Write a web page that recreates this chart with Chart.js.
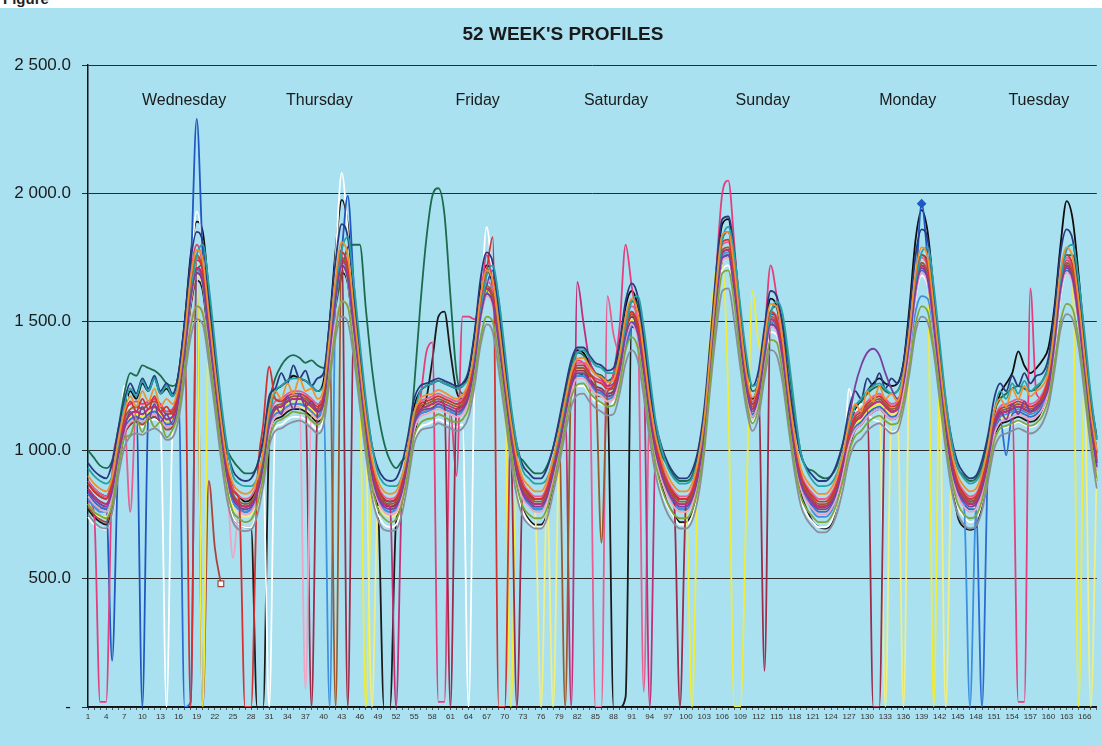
<!DOCTYPE html>
<html>
<head>
<meta charset="utf-8">
<title>52 WEEK'S PROFILES</title>
<script src="https://cdn.jsdelivr.net/npm/chart.js@4.4.1/dist/chart.umd.min.js"></script>
<style>
  html, body { margin: 0; padding: 0; }
  body { width: 1102px; height: 746px; background: #a9e1f0; position: relative; overflow: hidden; }
  #strip { position: absolute; left: 0; top: 0; width: 1102px; height: 8px; background: #fff; overflow: hidden; }
  #strip span { position: absolute; left: 3px; top: -10px; font: bold 15px "Liberation Sans", Arial, sans-serif; color: #222; }
  #chart { position: absolute; left: 0; top: 0; }
</style>
</head>
<body>
<canvas id="chart" width="1102" height="746"></canvas>
<div id="strip"><span>Figure</span></div>
<script>
// hourly load of each week, Wednesday 01h .. Tuesday 24h
const hours = Array.from({ length: 168 }, (_, i) => String(i + 1));
const dayNames = ['Wednesday', 'Thursday', 'Friday', 'Saturday', 'Sunday', 'Monday', 'Tuesday'];
const dayLabelHour = [16.9, 39.3, 65.5, 88.4, 112.7, 136.7, 158.4];
const dayLabelValue = 2362;

const wkOlive = [
  790,760,745,735,790,930,1045,1060,1120,1070,1130,1090,1110,1050,1080,1150,1320,1480,1560,1530,1380,1200,1010,850,
  760,735,720,730,785,895,1045,1105,1120,1135,1150,1145,1140,1115,1100,1140,1300,1470,1580,1560,1400,1215,1020,860,
  770,735,720,730,795,915,1055,1105,1120,1125,1140,1130,1115,1110,1120,1165,1290,1440,1520,1500,1360,1180,1000,860,
  780,750,735,735,775,865,975,1095,1205,1255,1260,1225,1200,1185,1170,1175,1255,1390,1440,1400,1255,1080,940,850,
  790,750,735,735,765,855,1015,1270,1510,1690,1700,1570,1360,1190,1105,1165,1310,1430,1420,1300,1110,940,820,770,
  740,720,720,740,795,885,995,1055,1075,1105,1125,1135,1115,1100,1105,1190,1330,1490,1560,1540,1400,1230,1030,880,
  790,750,735,745,805,915,1035,1085,1095,1105,1115,1105,1095,1105,1135,1200,1340,1500,1570,1550,1430,1250,1040,890
];
const wkGray = [
  750,720,700,695,755,895,1010,1055,1065,1060,1075,1085,1070,1040,1050,1120,1280,1440,1510,1490,1340,1160,970,810,
  720,690,685,690,745,860,1015,1075,1085,1100,1110,1115,1105,1085,1065,1100,1270,1440,1520,1500,1360,1170,980,820,
  730,690,685,690,755,880,1025,1075,1085,1090,1105,1095,1085,1075,1085,1130,1250,1410,1490,1460,1310,1140,960,820,
  740,710,695,695,735,830,945,1065,1170,1215,1220,1190,1165,1150,1135,1140,1220,1340,1390,1350,1210,1040,900,810,
  750,715,695,695,725,815,985,1240,1460,1620,1630,1500,1320,1160,1075,1130,1280,1390,1370,1260,1080,910,785,730,
  700,680,680,700,755,850,965,1025,1045,1075,1095,1105,1085,1065,1075,1160,1300,1460,1520,1500,1380,1190,1000,840,
  750,710,695,705,765,880,1005,1055,1065,1075,1085,1075,1065,1075,1105,1170,1310,1470,1530,1510,1400,1210,1010,850
];
const wkOrange = [
  900,870,850,840,895,1035,1150,1210,1170,1230,1190,1240,1170,1200,1180,1255,1440,1670,1780,1740,1530,1320,1120,960,
  870,840,830,840,890,995,1160,1230,1200,1260,1220,1280,1230,1240,1200,1240,1440,1670,1810,1760,1550,1330,1130,970,
  880,840,830,840,900,1015,1150,1200,1215,1220,1235,1225,1210,1200,1215,1265,1400,1600,1700,1660,1490,1290,1110,970,
  890,860,840,840,880,970,1075,1195,1305,1355,1360,1325,1295,1285,1265,1275,1370,1520,1590,1540,1380,1190,1050,960,
  900,860,840,840,870,960,1115,1375,1640,1840,1850,1710,1490,1300,1205,1265,1430,1570,1560,1430,1220,1050,930,880,
  850,830,830,850,900,985,1110,1180,1150,1230,1190,1250,1200,1220,1190,1295,1470,1690,1790,1750,1560,1340,1140,990,
  900,860,840,850,910,1015,1150,1200,1170,1240,1200,1250,1210,1230,1250,1305,1480,1700,1790,1750,1580,1360,1150,1000
];
const wkPurple = [
  840,810,790,780,840,975,1080,1150,1110,1170,1120,1180,1110,1140,1100,1195,1375,1590,1690,1650,1455,1255,1060,900,
  810,780,770,780,830,935,1100,1170,1140,1210,1160,1220,1170,1190,1150,1180,1375,1590,1720,1670,1475,1270,1065,905,
  815,780,770,780,840,960,1100,1150,1160,1165,1180,1170,1160,1150,1160,1205,1335,1520,1610,1575,1415,1230,1050,905,
  830,800,780,780,820,910,1015,1135,1250,1300,1300,1270,1240,1230,1210,1220,1305,1445,1500,1455,1305,1130,990,900,
  840,800,780,780,810,900,1055,1310,1570,1750,1760,1620,1415,1240,1150,1210,1365,1490,1475,1355,1160,990,870,820,
  790,770,770,790,845,950,1120,1250,1330,1380,1395,1370,1300,1240,1200,1260,1420,1620,1710,1665,1485,1280,1080,925,
  840,800,780,790,850,955,1090,1150,1120,1180,1140,1190,1150,1170,1190,1245,1415,1625,1710,1665,1505,1300,1090,935
];
const wkTeal = [
  930,900,880,870,900,1020,1170,1240,1210,1270,1230,1280,1220,1250,1210,1260,1380,1600,1760,1800,1640,1420,1200,1020,
  900,870,860,860,890,980,1130,1230,1250,1270,1280,1280,1270,1250,1230,1250,1400,1610,1780,1830,1650,1420,1200,1020,
  910,870,860,860,900,1000,1140,1230,1250,1260,1270,1260,1250,1240,1250,1280,1370,1540,1680,1720,1590,1390,1180,1020,
  920,890,870,870,890,960,1060,1180,1310,1380,1390,1360,1330,1320,1300,1300,1360,1480,1580,1600,1480,1290,1110,1000,
  930,890,870,870,890,960,1090,1330,1610,1820,1870,1760,1560,1370,1250,1270,1390,1530,1580,1530,1360,1160,990,920,
  880,860,860,870,910,990,1090,1170,1200,1230,1250,1260,1240,1220,1230,1290,1440,1640,1770,1790,1640,1420,1200,1030,
  930,890,870,880,920,1010,1150,1230,1200,1260,1220,1270,1230,1250,1270,1320,1450,1660,1780,1800,1660,1450,1220,1040
];
const wkNavy = [
  950,920,900,890,950,1080,1190,1260,1220,1280,1240,1290,1230,1260,1220,1300,1500,1740,1850,1810,1590,1370,1170,1010,
  920,890,880,890,940,1040,1210,1240,1300,1260,1330,1280,1310,1250,1280,1300,1500,1740,1880,1830,1610,1380,1180,1020,
  930,890,880,890,950,1060,1200,1250,1260,1270,1280,1270,1260,1250,1260,1310,1460,1670,1770,1730,1550,1340,1160,1020,
  940,910,890,890,930,1010,1120,1240,1350,1400,1400,1370,1340,1330,1310,1320,1420,1580,1650,1600,1430,1240,1100,1010,
  950,910,890,890,920,1000,1160,1420,1700,1900,1910,1770,1540,1340,1250,1310,1480,1620,1600,1480,1270,1100,980,930,
  900,880,880,900,950,1030,1160,1230,1200,1280,1250,1300,1240,1280,1260,1340,1530,1760,1860,1820,1620,1390,1190,1040,
  950,910,890,900,960,1060,1200,1260,1230,1290,1250,1300,1260,1290,1300,1360,1540,1770,1860,1820,1640,1410,1200,1050
];
const wkRed = [
  870,840,820,810,870,1010,1130,1190,1150,1200,1160,1210,1150,1170,1140,1230,1420,0,1740,1700,1500,1290,1090,930,
  840,810,0,0,860,1100,1325,1200,1190,1210,1220,1220,1210,1190,1170,1210,1410,1640,1770,1720,1510,1300,1100,940,
  850,810,800,810,870,990,1130,1180,1190,1200,1210,1200,1190,1180,1190,1240,1380,1580,1700,1830,0,0,1080,940,
  860,830,810,810,850,940,1050,1170,1280,1330,1330,1300,1270,1260,1240,1250,1340,1480,1540,1490,1340,1160,1020,930,
  870,830,810,810,840,930,1090,1350,1620,1810,1820,1670,1450,1270,1180,1240,1400,1540,1510,1390,1190,1020,900,850,
  820,800,800,820,870,960,1070,1130,1150,1180,1200,1210,1190,1170,1180,1270,1450,1670,1760,1720,1530,1310,1110,960,
  870,830,810,820,880,990,1110,1160,1170,1180,1190,1180,1170,1180,1210,1280,1460,1680,1760,1720,1550,1330,1120,970
];
const wkRose = [
  820,790,770,760,820,960,1070,1110,1120,1110,1130,1140,1120,1090,1100,1180,1340,1500,1560,1540,1400,1240,1040,880,
  580,760,750,760,810,920,1070,1130,1140,1160,1170,1170,70,1140,1120,1160,1340,1500,1580,1560,1430,1250,1050,890,
  800,760,750,760,820,940,1080,1130,1140,1150,1160,1150,1140,1130,1140,1190,1320,1510,1600,1560,1400,1210,1030,890,
  810,780,760,760,800,890,1000,1120,1230,1280,1280,1250,1220,1210,1190,1200,1290,1430,1490,1440,1290,1110,970,880,
  820,780,760,760,790,880,1040,1300,1560,1740,1750,1610,1400,1220,1130,1190,1350,1480,1460,1340,1140,970,850,800,
  770,750,750,770,820,910,1020,1080,1100,1130,1150,1160,1140,1120,1130,1220,1390,1600,1690,1650,1470,1260,1060,910,
  820,780,760,770,830,940,1060,1110,1120,1130,1140,1130,1120,1130,1160,1230,1400,1610,1690,1650,1490,1280,1070,920
];
const wkBrown = [
  870,840,820,810,870,1010,1120,1160,1170,1160,1180,1190,1170,1140,1150,1230,1420,1650,1760,1700,1490,1290,1090,930,
  830,800,790,800,850,960,1110,1170,1180,1200,1210,1210,1200,1180,1160,1200,1400,0,1750,1700,1500,1290,1090,930,
  840,800,790,800,860,980,1120,1170,1180,1190,1200,1190,1180,1170,1180,1230,1360,1550,1640,1600,1440,1250,1070,930,
  850,820,800,800,840,930,1040,0,1270,1320,1320,1290,1260,640,1230,1240,1330,1470,1530,1480,1330,1150,1010,920,
  860,820,800,800,830,920,1080,1340,1600,1780,1790,1650,1440,1260,1170,1230,1390,1520,1500,1380,1180,1010,890,840,
  810,790,790,810,860,950,1060,1120,1140,1170,1190,1200,1180,1160,1170,1260,1430,1640,1730,1690,1510,1300,1100,950,
  860,820,800,810,870,980,1100,1150,1160,1170,1180,1170,1160,1170,1200,1270,1440,1650,1730,1690,1530,1320,1110,960
];
const wkMagenta = [
  850,820,800,790,850,990,1100,1140,1150,1140,1160,1170,1150,1120,1130,1210,1390,1610,1710,1670,1470,1270,1070,910,
  820,790,780,790,840,950,1100,1160,1170,1190,1200,1200,1190,1170,1150,1190,1390,1610,1740,1690,1490,1280,1080,920,
  830,790,780,0,850,970,1110,1160,1170,1180,1190,1180,1170,1160,1170,1220,1350,1540,1630,1590,1430,1240,1060,920,
  840,810,790,790,830,920,1030,1150,0,1655,1500,1350,1300,1280,1250,1260,1350,1480,1540,1490,1340,0,1000,910,
  850,810,790,790,820,910,1070,1330,1590,1770,1780,1640,1430,1250,1160,1220,1380,1510,1490,1370,1170,1000,880,830,
  800,780,780,800,850,940,1050,1110,1130,1160,1180,1190,1170,1150,1160,1250,1420,1630,1720,1680,1500,1290,1090,940,
  850,810,790,800,860,970,1090,1140,1150,1160,1170,1160,1150,1160,1190,1260,1430,1640,1720,1680,1520,1310,1100,950
];
const wkPink2 = [
  880,850,830,820,880,1020,1120,760,1170,1160,1180,1190,1170,1140,1150,1230,1410,1640,1750,1700,1500,1290,1090,930,
  850,820,810,820,870,980,1130,1190,1200,1220,1230,1230,1220,1200,1180,1220,1420,1640,1770,1720,1520,1310,1110,950,
  860,820,810,820,880,1000,1140,1190,1200,1210,1220,1210,1200,1190,1200,1250,1380,1570,1660,1620,1460,1270,1090,950,
  870,840,820,820,860,950,1060,1180,1290,1340,1340,1310,0,0,1600,1450,1380,1500,1560,1500,60,1170,1030,940,
  880,840,820,820,850,940,1100,1360,1620,1800,1810,1670,1460,1280,1190,1250,1410,1540,1520,1400,1200,1030,910,860,
  830,810,810,830,880,970,1080,1140,1160,1190,1210,1220,1200,1180,1190,1280,1450,1660,1750,1710,1530,1320,1120,970,
  880,840,820,830,890,1000,1120,1170,1180,1190,1200,1190,1180,1190,1220,1290,1460,1670,1750,1710,1550,1340,1130,980
];
const wkMaroon = [
  850,820,800,790,850,990,1100,1140,1150,1140,1160,1170,1150,1120,1130,1210,1390,1610,1710,1670,1470,1270,1070,910,
  820,790,780,790,840,950,1100,1160,1170,1190,1200,1200,1190,0,1150,1200,1410,1650,1780,0,1480,1280,1080,920,
  830,790,780,790,850,970,1110,1160,1170,1180,1190,1180,0,1160,1170,1220,1350,1540,1630,1590,1430,1240,1060,0,
  840,810,790,790,830,920,1030,1150,1260,1310,1310,1280,1250,1240,1220,1230,1320,1460,1520,1470,1320,1140,1000,910,
  850,810,0,790,820,910,1070,1330,1590,1770,1780,1640,1430,1250,1160,1220,140,1510,1490,1370,1170,1000,880,830,
  800,780,780,800,850,940,1050,1110,1130,1160,0,0,1170,1150,1160,1250,1420,1630,1720,1680,1500,1290,1090,940,
  850,810,790,800,860,970,1090,1140,1150,1160,1170,1160,1150,1160,1190,1260,1430,1640,1720,1680,1520,1310,1100,950
];
const wkSky = [
  810,780,760,760,820,960,1070,1110,1120,1110,1130,1140,1120,1090,1100,1190,1370,1600,1700,1660,1460,1260,1060,900,
  800,770,760,770,820,930,1080,1140,1150,1170,1180,1180,1170,1150,1130,1170,0,1600,1730,1690,1490,1280,1080,920,
  810,770,760,770,830,950,1090,1140,1150,1160,1170,1160,1150,1140,1150,1200,1330,1520,1610,1640,1520,1300,1100,940,
  820,790,770,770,810,900,1010,1130,1240,1290,1290,1260,1230,1220,1200,1210,1290,1420,1490,1490,1380,1200,1030,920,
  830,790,770,770,800,890,1050,1310,1580,1760,1770,1640,1450,1270,1180,1230,1380,1500,1480,1370,1180,1000,870,810,
  760,740,740,760,820,910,1020,1080,1100,1130,1150,1160,1140,1120,1130,1220,1380,1540,1600,1590,1460,1270,1070,920,
  820,790,0,780,850,960,1080,1130,1140,1150,1160,1150,1140,1150,1180,1250,1420,1630,1710,1670,1510,1300,1090,940
];
const wkBlue2 = [
  830,800,780,770,830,970,1080,1120,1130,1120,1140,1150,1130,1100,1110,1190,0,20,1690,1650,1450,1250,1050,890,
  800,770,760,770,820,930,1080,1140,1150,1170,1180,1180,1170,1150,1130,1170,1370,1590,1720,1670,1470,1260,1060,900,
  810,770,760,770,830,950,1090,1140,1150,1160,1170,1160,1150,1140,1150,1200,1330,1520,1610,1570,1410,1220,1040,900,
  820,790,770,770,810,900,1010,1130,1240,1290,1290,1260,1230,1220,1200,1210,1300,1400,1480,1510,1420,1200,1020,910,
  830,790,770,770,800,890,1050,1310,1570,1750,1760,1620,1410,1230,1140,1200,1360,1490,1470,1350,1150,980,860,810,
  780,760,760,780,830,920,1030,1090,1110,1140,1160,1170,1150,1130,1140,1230,1400,1610,1700,1660,1480,1270,1070,920,
  830,790,770,770,0,950,1070,1120,980,1140,1150,1140,1130,1140,1170,1240,1410,1620,1700,1660,1500,1290,1080,930
];
const wkPaleYellow = [
  790,760,740,740,800,950,1070,1110,1120,1110,1130,1140,1120,1090,1100,1180,1360,1580,1680,1640,1440,1240,1040,880,
  780,750,740,750,810,920,1070,1130,1140,1160,1170,1170,1160,1140,1120,1160,1360,1580,1710,1660,1460,1250,1050,0,
  780,750,740,750,820,940,1080,1130,1140,1150,1160,1150,1140,1130,1140,1190,1320,1510,1600,1560,1400,1210,1030,890,
  810,780,760,0,800,0,1000,1120,1230,1280,1280,1250,1220,1210,1190,1200,1290,1430,1490,1440,1290,1110,970,880,
  820,780,760,760,790,880,1040,1300,1560,1740,1750,1620,1420,1240,1150,1210,1370,1500,1480,1360,1160,990,870,820,
  780,760,760,780,830,920,1030,1090,1110,1140,1160,1170,0,1130,1140,0,1400,1610,1700,1660,1480,1270,0,920,
  830,790,770,780,840,950,1070,1120,1130,1140,1150,1140,1130,1140,1170,1240,1410,1620,1700,1660,1500,1300,0,930
];
const wkYellow = [
  830,800,780,780,840,980,1090,1130,1140,1130,1150,1160,1140,1110,1120,1200,1380,1600,1700,0,1460,1260,1060,900,
  810,780,770,780,830,940,1090,1150,1160,1180,1190,1190,1180,1160,1140,1180,1380,1600,1730,1680,1480,1270,0,910,
  820,780,770,780,840,960,1100,1150,1160,1170,1180,1170,1160,1150,1160,1210,1340,1530,1620,1580,1420,1230,0,910,
  830,800,780,780,820,910,1020,1140,1250,1300,1300,1270,1240,1230,1210,1220,1310,1450,1510,1460,1310,1130,990,900,
  840,800,780,780,0,900,1060,1450,1700,1720,1200,0,0,800,1620,1420,1380,1500,1480,1360,1160,990,870,820,
  790,770,770,790,840,930,1040,1100,1120,1150,1170,1180,1160,1140,1150,1240,1410,1620,1710,1670,0,1280,1080,930,
  840,800,780,790,850,960,1080,1130,1140,1150,1160,1150,1140,1150,1180,1250,1420,1630,1710,1670,0,1320,1090,940
];
// last, incomplete week: stops at hour 23
const wkLast = [
  780,750,730,720,790,940,1060,1100,1110,1100,1120,1130,1110,1080,1090,1170,1350,1570,1650,0,880,620,480
];
const wkPink = [
  800,760,20,20,900,1060,1150,1180,1190,1180,1190,1200,1180,1150,1160,1240,1430,1680,1800,1720,1500,1290,1090,920,
  820,790,780,790,840,950,1100,1160,1170,1190,1200,1200,1190,1170,1150,1190,1390,1610,1740,1690,1490,1280,1080,920,
  830,790,780,790,850,970,1110,1200,1380,1420,20,20,1150,900,1520,1520,1510,1600,1760,1650,1430,1240,1060,920,
  840,810,790,790,830,920,1040,1170,1290,1350,1340,1300,1280,1270,1250,1300,1480,1800,1640,1500,1330,1140,1000,910,
  850,810,790,790,820,910,1080,1380,1700,2000,2050,1800,1500,1280,1180,1250,1450,1720,1600,1420,1200,1020,890,840,
  800,780,780,800,850,940,1050,1110,1130,1160,1180,1190,1170,1150,1160,1250,1420,1630,1720,1680,1500,1290,1090,940,
  850,810,790,800,860,970,1090,1140,1150,1160,20,20,1630,1220,1200,1270,1440,1650,1740,1700,1540,1330,1110,960
];
const wkBlue = [
  820,790,770,780,180,950,1090,1140,1150,0,1140,1160,1140,1110,1120,1210,1420,1700,2290,1760,1470,1250,1050,880,
  800,770,760,770,830,950,1100,1160,1170,1190,1200,1200,1190,1170,1150,1190,1390,1640,1780,1990,1650,1370,1130,950,
  820,780,770,780,840,960,1100,1150,1160,1170,1180,1170,1160,1150,1160,1210,1340,1520,1640,1700,1580,1340,1110,950,
  830,800,780,780,820,910,1020,1140,1250,1300,1300,1270,1240,1230,1210,1220,1300,1440,1520,1520,1420,1230,1060,950,
  840,800,780,780,810,900,1060,1320,1600,1830,1850,1700,1480,1280,1180,1240,1400,1530,1520,1420,1230,1040,900,850,
  800,780,780,800,850,940,1050,1110,1130,1160,1180,1190,1170,1150,1160,1250,1420,1630,1960,1750,1560,1340,1120,960,
  850,810,790,800,860,970,1090,1140,1150,1160,1170,1160,1150,1160,1190,1260,1430,1640,1720,1680,1520,1310,1100,950
];
const wkGreen = [
  1000,970,940,930,960,1080,1220,1300,1290,1330,1320,1310,1290,1260,1250,1280,1420,1600,1700,1720,1560,1360,1170,1010,
  960,930,910,910,940,1040,1190,1280,1330,1360,1370,1360,1340,1350,1330,1320,1420,1560,1680,1790,1800,1800,1550,1320,
  1150,1030,960,930,960,1000,1250,1560,1820,1990,2020,1920,1600,1300,1220,1250,1380,1540,1620,1620,1480,1300,1120,990,
  960,930,910,910,940,1010,1110,1230,1340,1380,1370,1330,1300,1290,1270,1290,1380,1510,1580,1570,1450,1250,1080,980,
  940,900,880,880,900,990,1140,1380,1640,1820,1850,1720,1520,1330,1230,1260,1400,1540,1560,1500,1330,1140,990,930,
  920,900,890,900,940,1030,1120,1170,1190,1220,1240,1250,1230,1220,1230,1300,1460,1660,1760,1740,1580,1380,1180,1020,
  930,900,880,890,940,1040,1150,1200,1220,1240,1250,1240,1230,1240,1270,1330,1480,1680,1760,1760,1620,1420,1200,1040
];
const wkWhite = [
  740,710,700,690,750,900,1250,1150,1100,1090,1110,1120,1100,0,1080,1170,1350,1700,1930,1800,1500,1230,1000,830,
  740,710,700,700,760,880,0,1090,1100,1120,1130,1130,1120,1100,1080,1130,1400,1750,2080,1850,1500,1250,1010,830,
  750,710,700,710,770,890,1040,1090,1100,1110,1120,1110,1100,1090,1100,0,1300,1560,1870,1650,1400,1180,990,840,
  760,720,700,700,740,830,950,1080,1200,1250,1250,1220,1190,1180,1170,1190,1290,1440,1500,1450,1280,1090,940,840,
  780,740,710,710,740,830,990,1260,1520,1700,1720,1580,1380,1200,1110,1170,1330,1460,1450,1320,1120,940,810,750,
  720,700,700,720,790,890,1240,1150,1180,1140,1120,1110,1090,1070,1080,1170,1370,1590,1680,1640,1460,1250,1040,880,
  780,740,720,730,800,920,1040,1080,1090,1100,1110,1100,1090,1100,1140,1210,1390,1600,1690,1650,1480,1270,1050,890
];
const wkBlackB = [
  770,740,720,710,770,930,1060,1100,1110,1110,1120,1130,1110,1090,1100,1180,1360,1560,1660,1620,1420,1220,1010,840,
  740,710,700,700,0,0,1040,1120,1130,1150,1160,1160,1150,1130,1110,1160,1350,1570,1690,1650,1440,1230,1010,840,
  780,0,0,720,780,900,1060,1150,1200,1350,1520,1540,1380,1230,1200,1250,1380,1580,1700,1640,1440,1220,1020,860,
  770,730,710,710,750,850,970,1100,1230,1300,1290,1250,1220,1210,1200,0,0,40,1480,1450,1290,1100,950,860,
  790,750,720,720,760,860,1020,1290,1560,1740,1760,1600,1400,1220,1130,1190,1360,1500,1470,1340,1130,950,830,770,
  720,700,695,710,790,900,1010,1080,1100,1130,1150,1160,1140,1120,1130,1220,1400,1620,1710,1660,1470,1250,1040,880,
  740,700,690,700,790,920,1050,1100,1110,1120,1130,1120,1110,1120,1160,1230,1410,1640,1720,1670,1490,1270,1040,880
];
const wkBlackA = [
  880,850,830,820,880,1030,1150,1230,1200,1260,1230,1280,1220,1240,1210,1300,1500,1760,1890,1850,1620,1380,1150,960,
  850,820,800,810,860,990,1160,1230,1250,1270,1290,1280,1270,1250,1230,1270,1500,1780,1975,1880,1600,1360,1130,950,
  860,810,800,810,880,1010,1170,1230,1250,1260,1270,1260,1250,1240,1250,1300,1450,1640,1720,1680,1500,1290,1100,950,
  870,830,810,810,850,950,1070,1200,1330,1390,1380,1340,1300,1290,1270,1290,1400,1560,1620,1560,1380,1180,1030,930,
  870,830,810,810,840,940,1110,1400,1690,1880,1900,1720,1490,1290,1200,1270,1450,1590,1560,1420,1200,1020,890,830,
  800,780,780,800,860,960,1080,1160,1190,1230,1260,1280,1260,1250,1260,1340,1560,1820,1935,1850,1620,1380,1150,970,
  860,820,800,810,880,1000,1140,1220,1260,1300,1385,1330,1300,1320,1350,1400,1560,1800,1970,1900,1680,1420,1170,990
];

const font = '"Liberation Sans", Arial, sans-serif';

// drawing order: first is at the bottom
const series = [
  { data: wkOlive, color: '#7fa63c' },
  { data: wkGray, color: '#8a8d9c' },
  { data: wkOrange, color: '#ee922e' },
  { data: wkPurple, color: '#7a3fa0' },
  { data: wkTeal, color: '#26a2a6' },
  { data: wkNavy, color: '#27397f' },
  { data: wkRed, color: '#d53131' },
  { data: wkRose, color: '#f0a3c4' },
  { data: wkBrown, color: '#9c5a2c' },
  { data: wkMagenta, color: '#c02f78' },
  { data: wkPink2, color: '#ea5c92' },
  { data: wkMaroon, color: '#9c2b4c' },
  { data: wkSky, color: '#3d8fe0' },
  { data: wkBlue2, color: '#2c6bd4' },
  { data: wkPaleYellow, color: '#f1ee82' },
  { data: wkYellow, color: '#f0ec3a' },
  { data: wkLast, color: '#a8443c', marker: 22, markerStyle: 'rect' },
  { data: wkPink, color: '#e63d7d' },
  { data: wkBlue, color: '#1f58c0', marker: 138, markerStyle: 'rectRot' },
  { data: wkGreen, color: '#1c6b4e' },
  { data: wkWhite, color: '#ffffff' },
  { data: wkBlackB, color: '#1a1a1a' },
  { data: wkBlackA, color: '#0d0d0d' }
];

function fmtValue(v) {
  if (v === 0) return '-';
  const parts = v.toFixed(1).split('.');
  return parts[0].replace(/\B(?=(\d{3})+(?!\d))/g, ' ') + '.' + parts[1];
}

const titleAndDays = {
  id: 'titleAndDays',
  afterDatasetsDraw(chart) {
    const { ctx, scales: { x, y } } = chart;
    ctx.save();
    ctx.fillStyle = '#1a1a1a';
    ctx.textAlign = 'center';
    ctx.textBaseline = 'middle';
    ctx.font = 'bold 19px ' + font;
    ctx.fillText("52 WEEK'S PROFILES", 563, 35);
    ctx.font = '16px ' + font;
    dayNames.forEach((name, i) => {
      ctx.fillText(name, x.getPixelForValue(dayLabelHour[i] - 1), y.getPixelForValue(dayLabelValue));
    });
    ctx.restore();
  }
};

new Chart(document.getElementById('chart'), {
  type: 'line',
  data: {
    labels: hours,
    datasets: series.map(s => ({
      data: s.data,
      borderColor: s.color,
      backgroundColor: s.markerStyle === 'rect' ? '#ffffff' : s.color,
      borderWidth: 1.8,
      cubicInterpolationMode: 'monotone',
      fill: false,
      pointStyle: s.markerStyle || 'circle',
      pointRadius: ctx => (ctx.dataIndex === s.marker ? 4 : 0),
      pointBorderWidth: 1.2,
      pointHoverRadius: 0
    }))
  },
  options: {
    responsive: false,
    animation: false,
    layout: { padding: { top: 65, right: 4, bottom: 0, left: 0 } },
    plugins: {
      legend: { display: false },
      title: { display: false },
      tooltip: { enabled: false }
    },
    scales: {
      x: {
        grid: { display: true, drawOnChartArea: false, drawTicks: true, tickLength: 3, color: '#555' },
        border: { display: true, color: '#111', width: 1.5 },
        ticks: {
          autoSkip: false, maxRotation: 0, minRotation: 0, padding: 2,
          font: { size: 8, family: font }, color: '#333',
          callback: (v, i) => (i % 3 === 0 ? hours[i] : '')
        },
        afterFit: s => { s.height = 39; }
      },
      y: {
        min: 0, max: 2500,
        ticks: { stepSize: 500, padding: 11, font: { size: 17, family: font }, color: '#1a1a1a', callback: fmtValue },
        grid: { color: '#2b2b2b', lineWidth: 1, tickLength: 6 },
        border: { display: true, color: '#111', width: 1.5 },
        afterFit: s => { s.width = 88; }
      }
    }
  },
  plugins: [titleAndDays]
});
</script>
</body>
</html>
